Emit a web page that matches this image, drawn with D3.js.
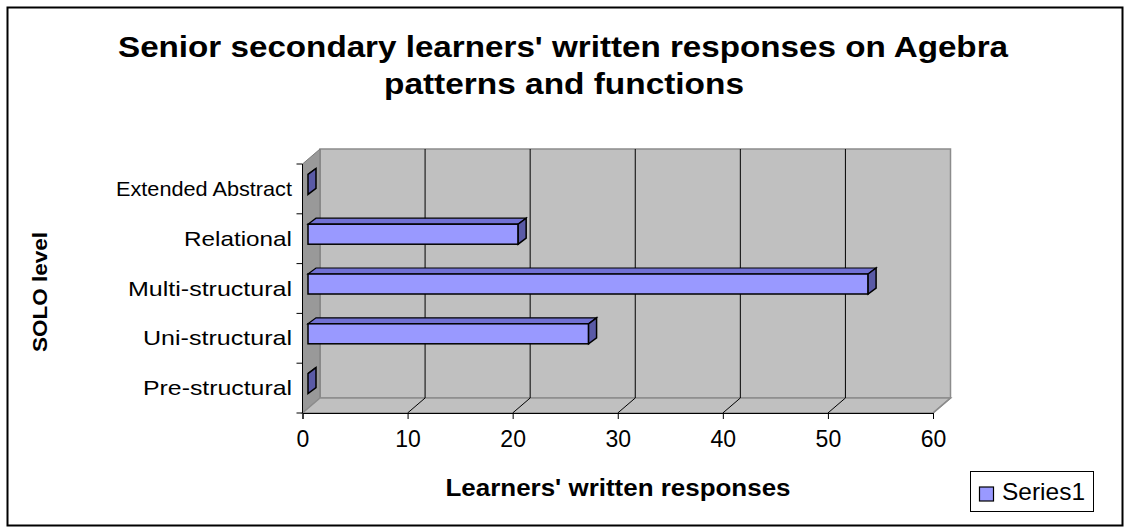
<!doctype html>
<html>
<head>
<meta charset="utf-8">
<script src="https://cdnjs.cloudflare.com/ajax/libs/d3/7.8.5/d3.min.js"></script>
<style>
  body { margin: 0; background: #fff; }
  svg { display: block; font-family: "Liberation Sans", Arial, sans-serif; }
</style>
</head>
<body>
<svg width="1130" height="527"></svg>
<script>
// data (percent of learners per SOLO level)
var categories = ["Pre-structural", "Uni-structural", "Multi-structural", "Relational", "Extended Abstract"];
var values = [0, 26.7, 53.3, 20, 0];
var xTicks = [0, 10, 20, 30, 40, 50, 60];
var seriesName = "Series1";

// widths the labels take in the picture (its font is wider than Arial)
var labelWidths = { "Pre-structural": 149, "Uni-structural": 149, "Multi-structural": 164, "Relational": 108, "Extended Abstract": 176 };

var svg = d3.select("svg");

// outer frame
svg.append("rect")
    .attr("x", 7.5).attr("y", 7.5)
    .attr("width", 1115).attr("height", 518)
    .attr("fill", "#fff").attr("stroke", "#000").attr("stroke-width", 2);

// title
svg.append("text")
    .attr("x", 563).attr("y", 57)
    .attr("text-anchor", "middle")
    .attr("font-size", 30).attr("font-weight", "bold")
    .attr("textLength", 890).attr("lengthAdjust", "spacingAndGlyphs")
    .text("Senior secondary learners' written responses on Agebra");
svg.append("text")
    .attr("x", 564).attr("y", 94)
    .attr("text-anchor", "middle")
    .attr("font-size", 30).attr("font-weight", "bold")
    .attr("textLength", 360).attr("lengthAdjust", "spacingAndGlyphs")
    .text("patterns and functions");

// scales
var x = d3.scaleLinear().domain([0, 60]).range([302.5, 933]);
var y = d3.scaleBand().domain(categories).range([413, 164]);

// depth of the 3D box
var DX = 17.5, DY = 15;
var xL = x(0), xR = x(60), yTop = 164, yBot = 413;

var g = svg.append("g");

// back wall
g.append("rect")
    .attr("x", xL + DX).attr("y", yTop - DY)
    .attr("width", xR - xL).attr("height", yBot - yTop)
    .attr("fill", "#c0c0c0").attr("stroke", "#8c8c8c").attr("stroke-width", 1.5);

// left side wall
g.append("path")
    .attr("d", "M" + xL + "," + yTop + "L" + (xL + DX) + "," + (yTop - DY) +
        "L" + (xL + DX) + "," + (yBot - DY) + "L" + xL + "," + yBot + "Z")
    .attr("fill", "#999999").attr("stroke", "#7a7a7a");

// floor
g.append("path")
    .attr("d", "M" + xL + "," + yBot + "L" + (xL + DX) + "," + (yBot - DY) +
        "L" + (xR + DX) + "," + (yBot - DY) + "L" + xR + "," + yBot + "Z")
    .attr("fill", "#c0c0c0").attr("stroke", "#8c8c8c").attr("stroke-width", 1.5);

// gridlines on back wall and floor
g.selectAll(".grid")
    .data(xTicks.slice(1, -1))
    .enter().append("line")
    .attr("x1", function (d) { return x(d) + DX; })
    .attr("x2", function (d) { return x(d) + DX; })
    .attr("y1", yTop - DY).attr("y2", yBot - DY)
    .attr("stroke", "#000");

g.selectAll(".floorgrid")
    .data(xTicks.slice(1))
    .enter().append("line")
    .attr("x1", function (d) { return x(d); })
    .attr("x2", function (d) { return x(d) + DX; })
    .attr("y1", yBot).attr("y2", yBot - DY)
    .attr("stroke", function (d) { return d == 60 ? "#8c8c8c" : "#000"; })
    .attr("stroke-width", function (d) { return d == 60 ? 1.5 : 1; });

// bars: top face, front face, right side face
var offX = 5.5, offY = 4.5, bdX = 8, bdY = 6, bh = 20;
var bars = g.selectAll(".bar")
    .data(categories.map(function (c, i) { return { cat: c, v: values[i] }; }))
    .enter().append("g").attr("class", "bar");

function fx(d) { return x(0) + offX; }
function fy(d) { return y(d.cat) + y.bandwidth() / 2 - offY - bh / 2; }
function ex(d) { return x(d.v) + offX; }

bars.append("path")
    .attr("d", function (d) {
        return "M" + fx(d) + "," + fy(d) + "L" + (fx(d) + bdX) + "," + (fy(d) - bdY) +
            "L" + (ex(d) + bdX) + "," + (fy(d) - bdY) + "L" + ex(d) + "," + fy(d) + "Z";
    })
    .attr("fill", "#7171d4").attr("stroke", "#000").attr("stroke-width", 1.2);

bars.append("rect")
    .attr("x", fx).attr("y", fy)
    .attr("width", function (d) { return ex(d) - fx(d); })
    .attr("height", bh)
    .attr("fill", "#9999ff").attr("stroke", "#000").attr("stroke-width", 1.5);

bars.append("path")
    .attr("d", function (d) {
        return "M" + ex(d) + "," + fy(d) + "L" + (ex(d) + bdX) + "," + (fy(d) - bdY) +
            "L" + (ex(d) + bdX) + "," + (fy(d) - bdY + bh) + "L" + ex(d) + "," + (fy(d) + bh) + "Z";
    })
    .attr("fill", "#5a5aa6").attr("stroke", "#000").attr("stroke-width", 1.5);

// x axis (front edge of floor)
var xAxis = svg.append("g")
    .attr("transform", "translate(0," + yBot + ")")
    .call(d3.axisBottom(x).tickValues(xTicks).tickSize(6).tickPadding(12));
xAxis.select(".domain").attr("stroke", "#000");
xAxis.selectAll(".tick line").attr("stroke", "#000");
xAxis.selectAll("text")
    .attr("font-size", 23)
    .attr("font-family", "Liberation Sans, Arial, sans-serif")
    .attr("fill", "#000");

// y axis
var yTickPos = d3.range(categories.length + 1).map(function (i) { return yBot - i * y.step(); });
svg.append("line")
    .attr("x1", xL).attr("x2", xL).attr("y1", yTop).attr("y2", yBot)
    .attr("stroke", "#000");
svg.selectAll(".ytick")
    .data(yTickPos)
    .enter().append("line")
    .attr("x1", xL - 6).attr("x2", xL)
    .attr("y1", function (d) { return d; }).attr("y2", function (d) { return d; })
    .attr("stroke", "#000");
svg.selectAll(".ylabel")
    .data(categories)
    .enter().append("text")
    .attr("x", 292)
    .attr("y", function (d) { return y(d) + y.bandwidth() / 2 + 7; })
    .attr("text-anchor", "end")
    .attr("font-size", 21)
    .attr("textLength", function (d) { return labelWidths[d]; })
    .attr("lengthAdjust", "spacingAndGlyphs")
    .text(function (d) { return d; });

// axis titles
svg.append("text")
    .attr("x", 618).attr("y", 496)
    .attr("text-anchor", "middle")
    .attr("font-size", 23).attr("font-weight", "bold")
    .attr("textLength", 345).attr("lengthAdjust", "spacingAndGlyphs")
    .text("Learners' written responses");

svg.append("text")
    .attr("transform", "translate(47,292) rotate(-90)")
    .attr("text-anchor", "middle")
    .attr("font-size", 21).attr("font-weight", "bold")
    .attr("textLength", 120).attr("lengthAdjust", "spacingAndGlyphs")
    .text("SOLO level");

// legend
var lg = svg.append("g");
lg.append("rect")
    .attr("x", 970.5).attr("y", 471.5).attr("width", 123).attr("height", 40)
    .attr("fill", "#fff").attr("stroke", "#000");
lg.append("rect")
    .attr("x", 979.5).attr("y", 487).attr("width", 14).attr("height", 14)
    .attr("fill", "#9999ff").attr("stroke", "#000").attr("stroke-width", 1.2);
lg.append("text")
    .attr("x", 1002).attr("y", 500)
    .attr("font-size", 24)
    .attr("textLength", 83).attr("lengthAdjust", "spacingAndGlyphs")
    .text(seriesName);
</script>
</body>
</html>
